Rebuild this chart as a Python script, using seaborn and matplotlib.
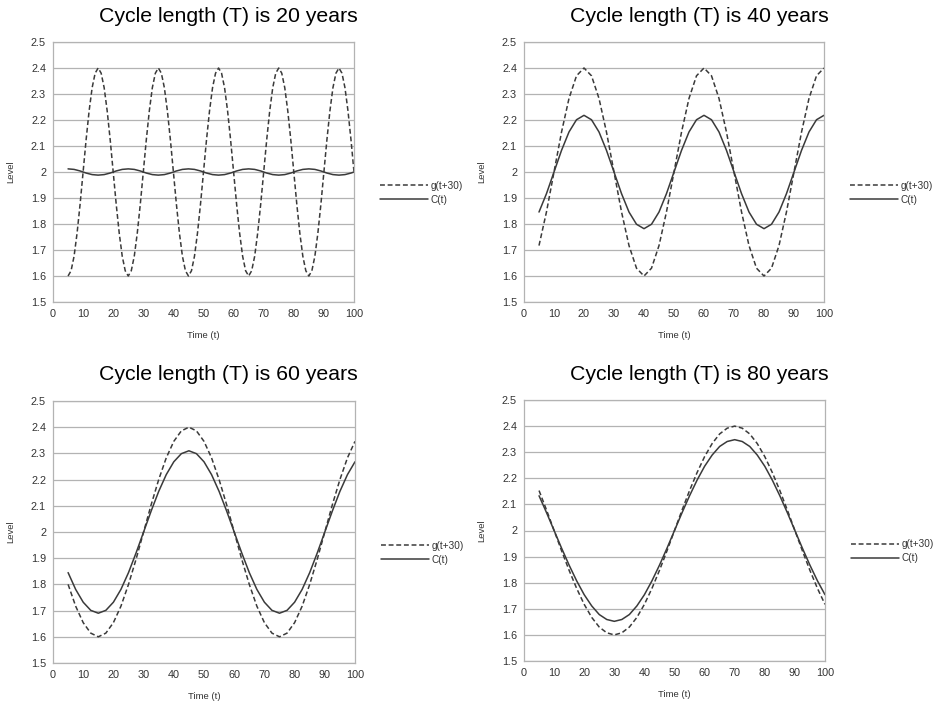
import numpy as np
import pandas as pd
import matplotlib
matplotlib.use('Agg')
import matplotlib.pyplot as plt
import seaborn as sns

# Values (level per time t)
t_fine = np.arange(5, 101, 1)        # 5..100 step 1 (T = 20 panel)
t_coarse = np.arange(5, 100.1, 2.5)  # 5..100 step 2.5 (other panels)

g_T20 = [1.600, 1.620, 1.676, 1.765, 1.876, 2.000, 2.124, 2.235, 2.324, 2.380,
         2.400, 2.380, 2.324, 2.235, 2.124, 2.000, 1.876, 1.765, 1.676, 1.620,
         1.600, 1.620, 1.676, 1.765, 1.876, 2.000, 2.124, 2.235, 2.324, 2.380,
         2.400, 2.380, 2.324, 2.235, 2.124, 2.000, 1.876, 1.765, 1.676, 1.620,
         1.600, 1.620, 1.676, 1.765, 1.876, 2.000, 2.124, 2.235, 2.324, 2.380,
         2.400, 2.380, 2.324, 2.235, 2.124, 2.000, 1.876, 1.765, 1.676, 1.620,
         1.600, 1.620, 1.676, 1.765, 1.876, 2.000, 2.124, 2.235, 2.324, 2.380,
         2.400, 2.380, 2.324, 2.235, 2.124, 2.000, 1.876, 1.765, 1.676, 1.620,
         1.600, 1.620, 1.676, 1.765, 1.876, 2.000, 2.124, 2.235, 2.324, 2.380,
         2.400, 2.380, 2.324, 2.235, 2.124, 2.000]
c_T20 = [2.012, 2.011, 2.010, 2.007, 2.004, 2.000, 1.996, 1.993, 1.990, 1.989,
         1.988, 1.989, 1.990, 1.993, 1.996, 2.000, 2.004, 2.007, 2.010, 2.011,
         2.012, 2.011, 2.010, 2.007, 2.004, 2.000, 1.996, 1.993, 1.990, 1.989,
         1.988, 1.989, 1.990, 1.993, 1.996, 2.000, 2.004, 2.007, 2.010, 2.011,
         2.012, 2.011, 2.010, 2.007, 2.004, 2.000, 1.996, 1.993, 1.990, 1.989,
         1.988, 1.989, 1.990, 1.993, 1.996, 2.000, 2.004, 2.007, 2.010, 2.011,
         2.012, 2.011, 2.010, 2.007, 2.004, 2.000, 1.996, 1.993, 1.990, 1.989,
         1.988, 1.989, 1.990, 1.993, 1.996, 2.000, 2.004, 2.007, 2.010, 2.011,
         2.012, 2.011, 2.010, 2.007, 2.004, 2.000, 1.996, 1.993, 1.990, 1.989,
         1.988, 1.989, 1.990, 1.993, 1.996, 2.000]

g_T40 = [1.717, 1.847, 2.000, 2.153, 2.283, 2.370, 2.400,
         2.370, 2.283, 2.153, 2.000, 1.847, 1.717, 1.630, 1.600,
         1.630, 1.717, 1.847, 2.000, 2.153, 2.283, 2.370, 2.400,
         2.370, 2.283, 2.153, 2.000, 1.847, 1.717, 1.630, 1.600,
         1.630, 1.717, 1.847, 2.000, 2.153, 2.283, 2.370, 2.400]
c_T40 = [1.846, 1.917, 2.000, 2.083, 2.154, 2.201, 2.218,
         2.201, 2.154, 2.083, 2.000, 1.917, 1.846, 1.799, 1.782,
         1.799, 1.846, 1.917, 2.000, 2.083, 2.154, 2.201, 2.218,
         2.201, 2.154, 2.083, 2.000, 1.917, 1.846, 1.799, 1.782,
         1.799, 1.846, 1.917, 2.000, 2.083, 2.154, 2.201, 2.218]

g_T60 = [1.800, 1.717, 1.654, 1.614, 1.600, 1.614, 1.654, 1.717, 1.800, 1.896,
         2.000, 2.104, 2.200, 2.283, 2.346, 2.386, 2.400, 2.386, 2.346, 2.283,
         2.200, 2.104, 2.000, 1.896, 1.800, 1.717, 1.654, 1.614, 1.600, 1.614,
         1.654, 1.717, 1.800, 1.896, 2.000, 2.104, 2.200, 2.283, 2.346]
c_T60 = [1.845, 1.781, 1.732, 1.701, 1.690, 1.701, 1.732, 1.781, 1.845, 1.920,
         2.000, 2.080, 2.155, 2.219, 2.268, 2.299, 2.310, 2.299, 2.268, 2.219,
         2.155, 2.080, 2.000, 1.920, 1.845, 1.781, 1.732, 1.701, 1.690, 1.701,
         1.732, 1.781, 1.845, 1.920, 2.000, 2.080, 2.155, 2.219, 2.268]

g_T80 = [2.153, 2.078, 2.000, 1.922, 1.847, 1.778, 1.717, 1.667, 1.630, 1.608,
         1.600, 1.608, 1.630, 1.667, 1.717, 1.778, 1.847, 1.922, 2.000, 2.078,
         2.153, 2.222, 2.283, 2.333, 2.370, 2.392, 2.400, 2.392, 2.370, 2.333,
         2.283, 2.222, 2.153, 2.078, 2.000, 1.922, 1.847, 1.778, 1.717]
c_T80 = [2.133, 2.068, 2.000, 1.932, 1.867, 1.807, 1.754, 1.711, 1.678, 1.659,
         1.652, 1.659, 1.678, 1.711, 1.754, 1.807, 1.867, 1.932, 2.000, 2.068,
         2.133, 2.193, 2.246, 2.289, 2.322, 2.341, 2.348, 2.341, 2.322, 2.289,
         2.246, 2.193, 2.133, 2.068, 2.000, 1.932, 1.867, 1.807, 1.754]

cycle_lengths = [20, 40, 60, 80]
panels = [(t_fine, g_T20, c_T20), (t_coarse, g_T40, c_T40),
          (t_coarse, g_T60, c_T60), (t_coarse, g_T80, c_T80)]

sns.set_style("white")
plt.rcParams['font.family'] = ['Liberation Sans', 'DejaVu Sans']

line_col = '#3a3a3a'
grid_col = '#b3b3b3'
text_col = '#333333'

W, H = 933, 705
fig = plt.figure(figsize=(W / 100, H / 100), dpi=100)

# axes boxes in pixels: left, top, right, bottom
boxes = [(53, 42, 354, 302), (524, 42, 824, 302),
         (53, 401, 355, 663), (524, 400, 825, 661)]
title_pos = [(228, 17), (699, 17), (228, 374), (699, 374)]

for i, (T, (t, g, c)) in enumerate(zip(cycle_lengths, panels)):
    l, tp, r, b = boxes[i]
    ax = fig.add_axes([l / W, 1 - b / H, (r - l) / W, (b - tp) / H])
    df = pd.DataFrame({'t': np.concatenate([t, t]),
                       'Level': np.concatenate([g, c]),
                       'series': ['g(t+30)'] * len(t) + ['C(t)'] * len(t)})
    sns.lineplot(data=df, x='t', y='Level', hue='series', style='series',
                 palette=[line_col, line_col],
                 dashes={'g(t+30)': (3.2, 1.8), 'C(t)': ''},
                 linewidth=1.1, ax=ax)
    ax.set_xlim(0, 100)
    ax.set_ylim(1.5, 2.5)
    ax.set_xticks(np.arange(0, 101, 10))
    ax.set_yticks(np.arange(1.5, 2.51, 0.1))
    ax.set_yticklabels(['1.5', '1.6', '1.7', '1.8', '1.9', '2', '2.1', '2.2',
                        '2.3', '2.4', '2.5'])
    ax.yaxis.grid(True, color=grid_col, linewidth=0.9)
    ax.xaxis.grid(False)
    ax.set_axisbelow(True)
    for s in ax.spines.values():
        s.set_color(grid_col)
        s.set_linewidth(0.9)
    ax.tick_params(axis='both', length=3, width=0.8, color=grid_col,
                   labelsize=7.8, labelcolor=text_col, pad=2)
    ax.set_xlabel('Time (t)', fontsize=6.8, color=text_col, labelpad=9)
    ax.set_ylabel('Level', fontsize=6.8, color=text_col, labelpad=11)
    ax.legend(loc='center left', bbox_to_anchor=(1.055, 0.42), frameon=False,
              fontsize=7.2, handlelength=4.8, handletextpad=0.3,
              labelspacing=0.4, labelcolor=text_col)
    fig.text(title_pos[i][0] / W, 1 - title_pos[i][1] / H,
             f'Cycle length (T) is {T} years', ha='center', va='center',
             fontsize=15.3, color='black')

plt.savefig('out.png', dpi=100)
